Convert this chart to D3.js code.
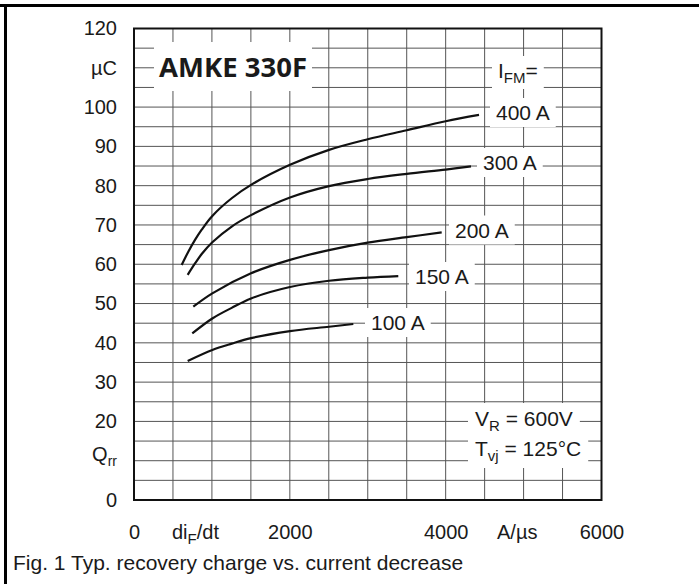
<!doctype html>
<html>
<head>
    <title>Qrr vs diF/dt</title>
    <script src='https://d3js.org/d3.v7.min.js'></script>
    <style>
        body { margin: 0; background: #fff; }
        text { font-family: "Liberation Sans", Arial, sans-serif; fill: #1a1a1a; }
    </style>
</head>
<body>
<svg></svg>
</body>
<script>

    // values: [diF/dt in A/us, Qrr in uC]
    var xTicks = [0, 2000, 4000, 6000];
    var yTicks = [0, 20, 30, 40, 50, 60, 70, 80, 90, 100, 120];
    var currents = ["400 A", "300 A", "200 A", "150 A", "100 A"];

    var q400 = [[612, 59.8], [697, 63.2], [783, 66.2], [869, 68.8], [1005, 72.3], [1254, 76.8],
                [1502, 80.2], [2002, 85.3], [2503, 89.1], [2999, 91.8], [3500, 94.1], [4000, 96.4], [4428, 98]];
    var q300 = [[689, 57.3], [783, 60.2], [869, 62.6], [1005, 65.6], [1254, 69.6], [1502, 72.5],
                [2002, 77], [2503, 79.9], [2999, 81.7], [3500, 83], [4000, 84.1], [4325, 84.9]];
    var q200 = [[761, 49.2], [1005, 52.6], [1502, 57.7], [2002, 61.1], [2503, 63.6], [2999, 65.5],
                [3500, 66.9], [3949, 68.1]];
    var q150 = [[748, 42.4], [1005, 46.2], [1254, 48.9], [1502, 51.3], [2002, 54.2], [2503, 55.8],
                [2999, 56.6], [3392, 57]];
    var q100 = [[689, 35.4], [1005, 38.2], [1254, 39.8], [1502, 41.2], [2002, 43], [2503, 44.1], [2815, 44.8]];

    var series = [q400, q300, q200, q150, q100];

    var svgWidth = 699, svgHeight = 584;
    var pLeft = 134, pRight = 601.5, pTop = 28.5, pBottom = 500;

    var svg = d3.select('svg')
        .attr('width', svgWidth)
        .attr('height', svgHeight);

    var xScale = d3.scaleLinear().domain([0, 6000]).range([pLeft, pRight]);
    var yScale = d3.scaleLinear().domain([0, 120]).range([pBottom, pTop]);

    // outer frame (only top and left survive in the scan)
    svg.append('rect').attr('x', 0).attr('y', 4).attr('width', svgWidth).attr('height', 3).attr('fill', '#000');
    svg.append('rect').attr('x', 4).attr('y', 4).attr('width', 3).attr('height', svgHeight).attr('fill', '#000');

    // grid
    var grid = svg.append('g').attr('stroke', '#555').attr('stroke-width', 1);
    grid.selectAll('.vx')
        .data(d3.range(500, 6000, 500))
        .enter().append('line')
        .attr('x1', function (d) { return xScale(d); })
        .attr('x2', function (d) { return xScale(d); })
        .attr('y1', pTop).attr('y2', pBottom);
    grid.selectAll('.hy')
        .data(d3.range(5, 120, 5))
        .enter().append('line')
        .attr('y1', function (d) { return yScale(d); })
        .attr('y2', function (d) { return yScale(d); })
        .attr('x1', pLeft).attr('x2', pRight);

    // text with optional subscripts: parts are strings or {sub: '..'}
    function fillText(t, parts, subSize) {
        var back = 0;
        parts.forEach(function (p) {
            if (typeof p === 'string') {
                var s = t.append('tspan').text(p);
                if (back) s.attr('dy', -back);
                back = 0;
            } else {
                t.append('tspan').attr('dy', 5).attr('font-size', subSize).text(p.sub);
                back = 5;
            }
        });
    }

    // labels with white boxes that cut the grid
    var labels = svg.append('g');
    function addLabel(x, y, parts, opts) {
        opts = opts || {};
        var g = labels.append('g');
        var rect = g.append('rect').attr('fill', '#fff');
        var t = g.append('text')
            .attr('x', x).attr('y', y)
            .attr('font-size', opts.size || 21);
        if (opts.bold) t.style('font-family', '"Open Sans", sans-serif').attr('font-weight', 'bold');
        fillText(t, parts, 15);
        var b = t.node().getBBox();
        var px = opts.padX || 6, py = opts.padY || 3;
        rect.attr('x', b.x - px).attr('y', b.y - py)
            .attr('width', b.width + 2 * px).attr('height', b.height + 2 * py);
        return g;
    }

    // curves
    var line = d3.line()
        .x(function (d) { return xScale(d[0]); })
        .y(function (d) { return yScale(d[1]); })
        .curve(d3.curveCatmullRom.alpha(0.5));

    svg.append('g').selectAll('path')
        .data(series)
        .enter().append('path')
        .attr('d', line)
        .attr('fill', 'none')
        .attr('stroke', '#111')
        .attr('stroke-width', 2.2);

    addLabel(159, 77, ['AMKE 330F'], { bold: true, size: 27.5, padX: 5, padY: 6 });
    addLabel(498, 78, ['I', { sub: 'FM' }, '=']);
    var labelPos = [[496, 120], [483, 170], [455, 237.5], [415, 284], [371, 330]];
    currents.forEach(function (c, i) {
        addLabel(labelPos[i][0], labelPos[i][1], [c]);
    });
    addLabel(475, 426, ['V', { sub: 'R' }, ' = 600V'], { padX: 7, padY: 4 });
    addLabel(475, 456, ['T', { sub: 'vj' }, ' = 125\u00b0C'], { padX: 7, padY: 4 });

    // plot border
    svg.append('rect')
        .attr('x', pLeft).attr('y', pTop)
        .attr('width', pRight - pLeft).attr('height', pBottom - pTop)
        .attr('fill', 'none').attr('stroke', '#111').attr('stroke-width', 2);

    // axes
    var yAxis = svg.append('g')
        .attr('transform', 'translate(' + pLeft + ',0)')
        .call(d3.axisLeft(yScale).tickValues(yTicks).tickSize(0).tickPadding(17));
    var xAxis = svg.append('g')
        .attr('transform', 'translate(0,' + pBottom + ')')
        .call(d3.axisBottom(xScale).tickValues(xTicks).tickFormat(d3.format('d')).tickSize(0).tickPadding(25));
    [yAxis, xAxis].forEach(function (a) {
        a.select('.domain').remove();
        a.selectAll('text').attr('font-size', 20).attr('fill', '#1a1a1a')
            .style('font-family', '"Liberation Sans", Arial, sans-serif');
    });

    // axis unit labels
    svg.append('text').attr('x', 117).attr('y', yScale(110)).attr('dy', '0.36em')
        .attr('text-anchor', 'end').attr('font-size', 20).text('\u00b5C');
    var q = svg.append('text').attr('x', 117).attr('y', yScale(10))
        .attr('text-anchor', 'end').attr('font-size', 20);
    fillText(q, ['Q', { sub: 'rr' }], 14);

    var di = svg.append('text').attr('x', 172).attr('y', 539).attr('font-size', 20);
    fillText(di, ['di', { sub: 'F' }, '/dt'], 15);
    svg.append('text').attr('x', 497).attr('y', 539).attr('font-size', 20).text('A/\u00b5s');

    // caption
    svg.append('text').attr('x', 13).attr('y', 570).attr('font-size', 21)
        .text('Fig. 1 Typ. recovery charge vs. current decrease');

</script>
</html>
